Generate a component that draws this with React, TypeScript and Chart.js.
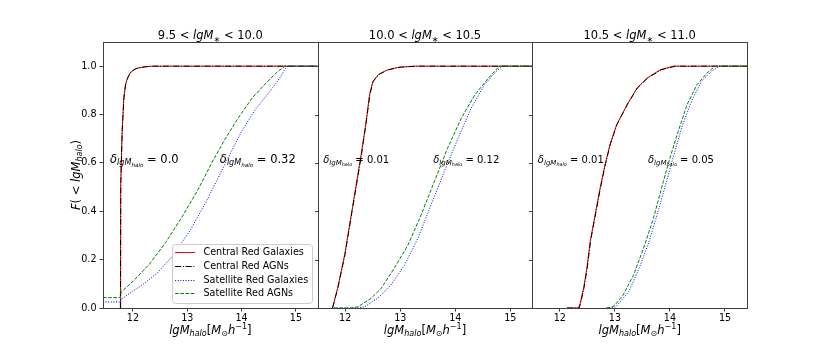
import React, { useEffect, useRef } from 'react';
import { Chart, registerables } from 'chart.js';

Chart.register(...registerables);

type Pt = [number, number];

// ---------- data ----------
const X_TICKS = [12, 13, 14, 15];
const Y_TICKS = [0, 0.2, 0.4, 0.6, 0.8, 1.0];
const Y_MIN = 0;
const Y_MAX = 1.1;

const PANEL_MASS_LO = ['9.5', '10.0', '10.5'];
const PANEL_MASS_HI = ['10.0', '10.5', '11.0'];
const PANEL_X_MIN = [11.45, 11.5, 11.5];
const PANEL_X_MAX = [15.4, 15.4, 15.4];

const DELTA_CENTRAL = ['0.0', '0.01', '0.01'];
const DELTA_SATELLITE = ['0.32', '0.12', '0.05'];
const DELTA_CENTRAL_X = [11.58, 11.6, 11.6];
const DELTA_SATELLITE_X = [13.6, 13.6, 13.6];
const DELTA_Y = 0.6;

const SERIES_LABELS = ['Central Red Galaxies', 'Central Red AGNs', 'Satellite Red Galaxies', 'Satellite Red AGNs'];

// panel 1: 9.5 < lgM* < 10.0
const P1_CENTRAL_GALAXIES: Pt[] = [
  [11.77, 0], [11.775, 0.5], [11.8, 0.72], [11.83, 0.86], [11.86, 0.92], [11.9, 0.95],
  [11.96, 0.975], [12.05, 0.99], [12.2, 0.997], [12.35, 1.0], [15.4, 1.0],
];
const P1_CENTRAL_AGNS: Pt[] = [
  [11.77, 0], [11.778, 0.52], [11.805, 0.74], [11.835, 0.87], [11.87, 0.93], [11.92, 0.96],
  [11.98, 0.98], [12.08, 0.992], [12.25, 0.998], [12.4, 1.0], [15.4, 1.0],
];
const P1_SATELLITE_GALAXIES: Pt[] = [
  [11.45, 0.025], [11.77, 0.025], [11.78, 0.035], [12.0, 0.07], [12.2, 0.1], [12.45, 0.145],
  [12.75, 0.22], [13.05, 0.32], [13.35, 0.44], [13.55, 0.53], [13.75, 0.62], [14.0, 0.73],
  [14.25, 0.82], [14.5, 0.89], [14.7, 0.95], [14.83, 1.0], [15.4, 1.0],
];
const P1_SATELLITE_AGNS: Pt[] = [
  [11.45, 0.043], [11.77, 0.043], [11.78, 0.065], [12.0, 0.11], [12.3, 0.18], [12.6, 0.27],
  [12.9, 0.375], [13.2, 0.49], [13.45, 0.6], [13.7, 0.7], [13.95, 0.79], [14.2, 0.87],
  [14.45, 0.93], [14.65, 0.975], [14.8, 1.0], [15.4, 1.0],
];

// panel 2: 10.0 < lgM* < 10.5
const P2_CENTRAL_GALAXIES: Pt[] = [
  [11.77, 0], [11.86, 0.08], [11.99, 0.22], [12.11, 0.385], [12.2, 0.51], [12.29, 0.635],
  [12.38, 0.77], [12.44, 0.88], [12.5, 0.935], [12.6, 0.965], [12.75, 0.983], [12.95, 0.995],
  [13.25, 1.0], [15.4, 1.0],
];
const P2_CENTRAL_AGNS: Pt[] = [
  [11.77, 0], [11.87, 0.085], [12.0, 0.225], [12.11, 0.38], [12.21, 0.515], [12.3, 0.64],
  [12.38, 0.765], [12.45, 0.885], [12.51, 0.938], [12.62, 0.967], [12.78, 0.985], [13.0, 0.996],
  [13.3, 1.0], [15.4, 1.0],
];
const P2_SATELLITE_GALAXIES: Pt[] = [
  [11.8, 0], [12.2, 0], [12.35, 0.005], [12.59, 0.04], [12.83, 0.095], [13.08, 0.178],
  [13.32, 0.288], [13.56, 0.426], [13.8, 0.564], [14.05, 0.702], [14.29, 0.827], [14.53, 0.923],
  [14.74, 0.978], [14.86, 1.0], [15.4, 1.0],
];
const P2_SATELLITE_AGNS: Pt[] = [
  [11.8, 0], [12.1, 0], [12.23, 0.005], [12.47, 0.04], [12.65, 0.08], [12.89, 0.164],
  [13.14, 0.26], [13.38, 0.385], [13.62, 0.523], [13.86, 0.661], [14.11, 0.785], [14.35, 0.88],
  [14.6, 0.95], [14.8, 1.0], [15.4, 1.0],
];

// panel 3: 10.5 < lgM* < 11.0
const P3_CENTRAL_GALAXIES: Pt[] = [
  [12.13, 0], [12.34, 0], [12.37, 0.02], [12.43, 0.08], [12.49, 0.164], [12.55, 0.274],
  [12.64, 0.385], [12.73, 0.495], [12.82, 0.592], [12.91, 0.675], [13.03, 0.757], [13.22, 0.84],
  [13.4, 0.909], [13.58, 0.95], [13.82, 0.985], [14.06, 1.0], [15.4, 1.0],
];
const P3_CENTRAL_AGNS: Pt[] = [
  [12.13, 0], [12.35, 0], [12.38, 0.022], [12.44, 0.085], [12.5, 0.17], [12.56, 0.28],
  [12.65, 0.39], [12.74, 0.5], [12.83, 0.597], [12.92, 0.68], [13.04, 0.76], [13.23, 0.843],
  [13.41, 0.91], [13.6, 0.952], [13.85, 0.986], [14.1, 1.0], [15.4, 1.0],
];
const P3_SATELLITE_GALAXIES: Pt[] = [
  [12.85, 0], [13.02, 0.005], [13.25, 0.067], [13.44, 0.164], [13.62, 0.274], [13.8, 0.412],
  [13.97, 0.55], [14.09, 0.647], [14.21, 0.744], [14.39, 0.854], [14.57, 0.937], [14.75, 0.978],
  [14.9, 1.0], [15.4, 1.0],
];
const P3_SATELLITE_AGNS: Pt[] = [
  [12.85, 0], [12.95, 0.005], [13.0, 0.012], [13.15, 0.054], [13.34, 0.137], [13.52, 0.247],
  [13.7, 0.371], [13.88, 0.523], [14.0, 0.62], [14.13, 0.716], [14.31, 0.84], [14.49, 0.923],
  [14.67, 0.971], [14.82, 1.0], [15.4, 1.0],
];

const PANEL_SERIES: Pt[][][] = [
  [P1_CENTRAL_GALAXIES, P1_CENTRAL_AGNS, P1_SATELLITE_GALAXIES, P1_SATELLITE_AGNS],
  [P2_CENTRAL_GALAXIES, P2_CENTRAL_AGNS, P2_SATELLITE_GALAXIES, P2_SATELLITE_AGNS],
  [P3_CENTRAL_GALAXIES, P3_CENTRAL_AGNS, P3_SATELLITE_GALAXIES, P3_SATELLITE_AGNS],
];

// ---------- styles ----------
const SERIES_COLORS = ['#ff0000', '#000000', '#0000ff', '#008000'];
const SERIES_DASHES = [[], [6.2, 1.6, 1, 1.6], [1, 1.6], [3.6, 1.6]];
const LINE_WIDTH = 1;
const FONT = '"DejaVu Sans", sans-serif';
const X_IDS = ['x1', 'x2', 'x3'];
const FRAME_COLOR = '#404040';

type Seg = { t: string; it?: boolean; s?: number; dy?: number };

function fontStr(size: number, italic: boolean) {
  return `${italic ? 'italic ' : ''}${size}px ${FONT}`;
}
function richWidth(ctx: CanvasRenderingContext2D, segs: Seg[], size: number) {
  let w = 0;
  for (const g of segs) {
    ctx.font = fontStr(size * (g.s ?? 1), !!g.it);
    w += ctx.measureText(g.t).width;
  }
  return w;
}
function drawRich(ctx: CanvasRenderingContext2D, segs: Seg[], x: number, y: number, size: number, align: 'left' | 'center') {
  const w = richWidth(ctx, segs, size);
  let cx = align === 'center' ? x - w / 2 : x;
  ctx.textAlign = 'left';
  ctx.textBaseline = 'alphabetic';
  for (const g of segs) {
    ctx.font = fontStr(size * (g.s ?? 1), !!g.it);
    ctx.fillText(g.t, cx, y + (g.dy ?? 0) * size);
    cx += ctx.measureText(g.t).width;
  }
}

const titleSegs = (lo: string, hi: string): Seg[] => [
  { t: lo + ' < ' },
  { t: 'lgM', it: true },
  { t: '\u2217', s: 0.7, dy: 0.22 },
  { t: ' < ' + hi },
];
const deltaSegs = (val: string): Seg[] => [
  { t: '\u03b4', it: true },
  { t: 'lgM', it: true, s: 0.7, dy: 0.2 },
  { t: 'halo', it: true, s: 0.49, dy: 0.32 },
  { t: ' = ' + val },
];
const xLabelSegs: Seg[] = [
  { t: 'lgM', it: true },
  { t: 'halo', it: true, s: 0.7, dy: 0.2 },
  { t: '[' },
  { t: 'M', it: true },
  { t: '\u2299', s: 0.7, dy: 0.2 },
  { t: 'h', it: true },
  { t: '\u22121', s: 0.7, dy: -0.42 },
  { t: ']' },
];
const yLabelSegs: Seg[] = [
  { t: 'F', it: true },
  { t: '( < ' },
  { t: 'lgM', it: true },
  { t: 'halo', it: true, s: 0.7, dy: 0.2 },
  { t: ')' },
];

const decorPlugin = {
  id: 'decor',
  afterDatasetsDraw(chart: any) {
    const ctx: CanvasRenderingContext2D = chart.ctx;
    const ca = chart.chartArea;
    const ys = chart.scales.y;
    ctx.save();
    ctx.setLineDash([]);

    // annotations
    ctx.fillStyle = '#000';
    X_IDS.forEach((id, i) => {
      const xs = chart.scales[id];
      const size = i === 0 ? 11.5 : 10;
      const py = ys.getPixelForValue(DELTA_Y);
      drawRich(ctx, deltaSegs(DELTA_CENTRAL[i]), xs.getPixelForValue(DELTA_CENTRAL_X[i]), py, size, 'left');
      drawRich(ctx, deltaSegs(DELTA_SATELLITE[i]), xs.getPixelForValue(DELTA_SATELLITE_X[i]), py, size, 'left');
    });

    // legend in first panel (lower right)
    const x1 = chart.scales.x1;
    const lsize = 9.6;
    ctx.font = fontStr(lsize, false);
    const textW = Math.max(...SERIES_LABELS.map((l) => ctx.measureText(l).width));
    const rowH = 13.9;
    const boxW = 2.7 + 20 + 8.3 + textW + 4;
    const boxH = SERIES_LABELS.length * rowH + 3.4;
    const right = x1.right - 5.5;
    const bottom = ca.bottom - 5;
    const left = right - boxW;
    const top = bottom - boxH;
    ctx.beginPath();
    ctx.roundRect(Math.round(left) + 0.5, Math.round(top) + 0.5, Math.round(boxW), Math.round(boxH), 3);
    ctx.fillStyle = 'rgba(255,255,255,0.8)';
    ctx.fill();
    ctx.strokeStyle = '#cccccc';
    ctx.lineWidth = 1;
    ctx.stroke();
    const ds = chart.data.datasets;
    SERIES_LABELS.forEach((lab, k) => {
      const cy = top + 7.7 + k * rowH;
      const d = ds[k];
      ctx.strokeStyle = d.borderColor;
      ctx.lineWidth = d.borderWidth;
      ctx.setLineDash(d.borderDash || []);
      ctx.beginPath();
      ctx.moveTo(left + 2.7, Math.round(cy) + 0.5);
      ctx.lineTo(left + 22.7, Math.round(cy) + 0.5);
      ctx.stroke();
      ctx.setLineDash([]);
      ctx.fillStyle = '#000';
      ctx.font = fontStr(lsize, false);
      ctx.textAlign = 'left';
      ctx.textBaseline = 'middle';
      ctx.fillText(lab, left + 31, cy + 0.5);
    });

    // frames
    ctx.setLineDash([]);
    ctx.strokeStyle = FRAME_COLOR;
    ctx.lineWidth = 1;
    X_IDS.forEach((id) => {
      const s = chart.scales[id];
      const l = Math.round(s.left) + 0.5;
      const r = Math.round(s.right) + 0.5;
      const t = Math.round(ca.top) + 0.5;
      const b = Math.round(ca.bottom) + 0.5;
      ctx.strokeRect(l, t, r - l, b - t);
    });
    // y tick marks on the inner panels
    [1, 2].forEach((i) => {
      const s = chart.scales[X_IDS[i]];
      const l = Math.round(s.left) + 0.5;
      Y_TICKS.forEach((v) => {
        const py = Math.round(ys.getPixelForValue(v)) + 0.5;
        ctx.beginPath();
        ctx.moveTo(l - 3.5, py);
        ctx.lineTo(l, py);
        ctx.stroke();
      });
    });
    ctx.restore();
  },
  afterDraw(chart: any) {
    const ctx: CanvasRenderingContext2D = chart.ctx;
    const ca = chart.chartArea;
    ctx.save();
    ctx.fillStyle = '#000';
    X_IDS.forEach((id, i) => {
      const s = chart.scales[id];
      const cx = (s.left + s.right) / 2;
      drawRich(ctx, titleSegs(PANEL_MASS_LO[i], PANEL_MASS_HI[i]), cx, ca.top - 3, 11.5, 'center');
      drawRich(ctx, xLabelSegs, cx, ca.bottom + 26, 11.5, 'center');
    });
    // y label
    ctx.translate(80, (ca.top + ca.bottom) / 2);
    ctx.rotate(-Math.PI / 2);
    drawRich(ctx, yLabelSegs, 0, 0, 11.5, 'center');
    ctx.restore();
  },
};

export default function App() {
  const ref = useRef<HTMLCanvasElement | null>(null);
  useEffect(() => {
    if (!ref.current) return;
    const datasets: any[] = [];
    PANEL_SERIES.forEach((series, p) => {
      series.forEach((pts, k) => {
        datasets.push({
          label: SERIES_LABELS[k],
          data: pts.map(([x, y]) => ({ x, y })),
          xAxisID: X_IDS[p],
          yAxisID: 'y',
          borderColor: SERIES_COLORS[k],
          backgroundColor: SERIES_COLORS[k],
          borderWidth: LINE_WIDTH,
          borderDash: SERIES_DASHES[k],
          pointRadius: 0,
          tension: 0,
          fill: false,
          order: 3 - k,
        });
      });
    });
    const scales: any = {};
    X_IDS.forEach((id, i) => {
      scales[id] = {
        type: 'linear',
        position: 'bottom',
        stack: 'panels',
        stackWeight: 1,
        min: PANEL_X_MIN[i],
        max: PANEL_X_MAX[i],
        afterBuildTicks: (s: any) => {
          s.ticks = X_TICKS.map((v) => ({ value: v }));
        },
        afterFit: (s: any) => {
          s.height = 38;
        },
        grid: { display: true, drawOnChartArea: false, drawTicks: true, tickLength: 3.5, tickColor: FRAME_COLOR, tickWidth: 1 },
        border: { display: false },
        ticks: {
          color: '#000',
          font: { family: FONT, size: 9.6 },
          padding: 1,
          maxRotation: 0,
          autoSkip: false,
          callback: (v: any) => String(v),
        },
      };
    });
    scales.y = {
      type: 'linear',
      position: 'left',
      min: Y_MIN,
      max: Y_MAX,
      afterBuildTicks: (s: any) => {
        s.ticks = Y_TICKS.map((v) => ({ value: v }));
      },
      afterFit: (s: any) => {
        s.width = 40;
      },
      grid: { display: true, drawOnChartArea: false, drawTicks: true, tickLength: 3.5, tickColor: FRAME_COLOR, tickWidth: 1 },
      border: { display: false },
      ticks: {
        color: '#000',
        font: { family: FONT, size: 9.6 },
        padding: 3,
        callback: (v: any) => Number(v).toFixed(1),
      },
    };
    const chart = new Chart(ref.current, {
      type: 'line',
      data: { datasets },
      options: {
        animation: false,
        responsive: false,
        maintainAspectRatio: false,
        devicePixelRatio: 1,
        layout: { padding: { left: 63, right: 83, top: 42, bottom: 0 } },
        plugins: { legend: { display: false }, title: { display: false }, tooltip: { enabled: false } },
        scales,
      } as any,
      plugins: [decorPlugin as any],
    });
    return () => chart.destroy();
  }, []);
  return (
    <div style={{ position: 'absolute', left: 0, top: 0, width: 830, height: 346, background: '#fff' }}>
      <canvas ref={ref} width={830} height={346} />
    </div>
  );
}
